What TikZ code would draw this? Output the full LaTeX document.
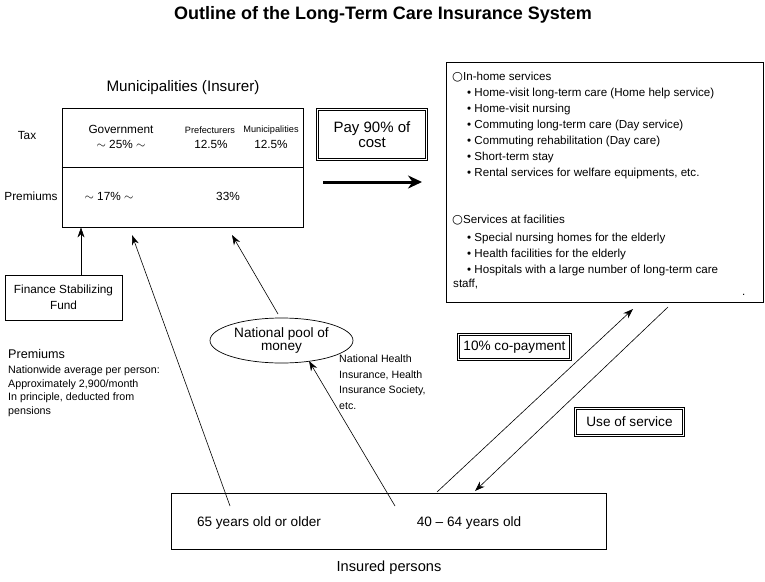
\documentclass[tikz,border=0pt]{standalone}
\usepackage{fontspec}
\setmainfont{Liberation Sans}
\newfontfamily\symfont{DejaVu Sans}
\usetikzlibrary{arrows.meta,shapes.geometric}
\newcommand{\circmark}{{\symfont\fontsize{12.5}{12}\selectfont ○}}
\begin{document}
\begin{tikzpicture}[x=1pt,y=-1pt,
  every node/.style={inner sep=0pt},
  box/.style={draw,line width=0.9pt,rectangle},
  dbox/.style={draw,line width=0.7pt,double,double distance=1.6pt,rectangle},
  big/.style={font=\fontsize{13.6}{15}\selectfont},
  med/.style={font=\fontsize{11.8}{16}\selectfont},
  sml/.style={font=\fontsize{11.6}{16}\selectfont},
  nhis/.style={font=\fontsize{10.6}{15.5}\selectfont},
  tny/.style={font=\fontsize{9.2}{10}\selectfont},
  arr/.style={line width=0.6pt,-{Stealth[length=10pt,width=7pt]}},
  thin/.style={line width=0.6pt}]
\useasboundingbox (0,0) rectangle (765,581);

\node (title) at (383,15) {\fontsize{18}{20}\selectfont\bfseries Outline of the Long-Term Care Insurance System};

\node[font=\fontsize{15.2}{17}\selectfont] (insurer) at (183,88) {Municipalities (Insurer)};
\node[box,minimum width=241pt,minimum height=119pt] (main) at (182.5,167.5) {};
\draw[line width=0.9pt] (main.west |- 0,167) coordinate (divL) -- (main.east |- 0,167) coordinate (divR);

\node[med] (tax) at (27,135) {Tax};
\node[med,align=center] (gov) at (121,137) {Government\\[-1pt]$\sim$ 25\% $\sim$};
\node[tny] (pref) at (210,130) {Prefecturers};
\node[med] (pref2) at (211,144) {12.5\%};
\node[tny] (muni) at (271,130) {Municipalities};
\node[med] (muni2) at (271,144) {12.5\%};
\node[med] (prem) at (31,196) {Premiums};
\node[med] (p17) at (109,196) {$\sim$ 17\% $\sim$};
\node[med] (p33) at (228,196) {33\%};

\node[box,minimum width=117pt,minimum height=45pt,med,align=center] (fsf) at (63.5,297.5) {Finance Stabilizing\\Fund};
\draw[arr] (fsf.north -| 81,0) -- (81,0 |- main.south);

\node[dbox,minimum width=109pt,minimum height=50pt,font=\fontsize{15}{15}\selectfont,align=center] (pay) at (372,134.5) {Pay 90\% of\\cost};
\coordinate (thkS) at (323,182);
\coordinate (thkE) at (422,182);
\draw[line width=3pt,-{Stealth[length=14pt,width=13pt]}] (thkS) -- (thkE);

\node[box,minimum width=317pt,minimum height=240pt] (serv) at (604.5,182) {};
\begin{scope}[every node/.style={inner sep=0pt,anchor=west,sml}]
\node (s1) at (452,77) {\circmark In-home services};
\node (s2) at (467,93) {•\ Home-visit long-term care (Home help service)};
\node (s3) at (467,109) {•\ Home-visit nursing};
\node (s4) at (467,125) {•\ Commuting long-term care (Day service)};
\node (s5) at (467,141) {•\ Commuting rehabilitation (Day care)};
\node (s6) at (467,157) {•\ Short-term stay};
\node (s7) at (467,173) {•\ Rental services for welfare equipments, etc.};
\node (f1) at (452,220) {\circmark Services at facilities};
\node (f2) at (467,238) {•\ Special nursing homes for the elderly};
\node (f3) at (467,254) {•\ Health facilities for the elderly};
\node (f4) at (467,270) {•\ Hospitals with a large number of long-term care};
\node (f5) at (453,284) {staff,};
\node (dot) at (742,295) {.};
\end{scope}

\node[dbox,minimum width=112pt,minimum height=25pt,font=\fontsize{13.6}{15}\selectfont] (copay) at (514.5,347) {10\% co-payment};
\node[dbox,minimum width=108pt,minimum height=27pt,big] (use) at (629.5,422) {Use of service};

\node[draw,ellipse,line width=0.7pt,minimum width=143pt,minimum height=45pt,big,align=center] (pool) at (281.5,340.5) {National pool of\\[-2pt]money};

\node[nhis,anchor=north west,align=left] (nhi) at (339,355) {National Health\\Insurance, Health\\Insurance Society,\\etc.};

\node[font=\fontsize{12.6}{14}\selectfont,anchor=west] (pnote) at (8,354) {Premiums};
\node[font=\fontsize{10.7}{13.5}\selectfont,anchor=north west,align=left] (pnote2) at (8,366) {Nationwide average per person:\\Approximately 2,900/month\\In principle, deducted from\\pensions};

\node[box,minimum width=435pt,minimum height=56pt] (ins) at (388.5,521) {};
\node[big] (y65) at (259,523) {65 years old or older};
\node[big] (y40) at (469,523) {40 -- 64 years old};
\node[font=\fontsize{14.6}{16}\selectfont] (insl) at (389,568) {Insured persons};

\coordinate (a65) at (230,506);
\coordinate (a65e) at (132,235);
\draw[arr] (a65) -- (a65e);
\coordinate (a40) at (395,506);
\coordinate (a40e) at (309,361);
\draw[arr] (a40) -- (a40e);
\coordinate (poolT) at (278,314);
\coordinate (poolTe) at (232,235);
\draw[arr] (poolT) -- (poolTe);

\coordinate (cpS) at (437,492);
\coordinate (cpE) at (633,309);
\draw[arr] (cpS) -- (cpE);
\coordinate (usS) at (668,307);
\coordinate (usE) at (475,491);
\draw[arr] (usS) -- (usE);
\end{tikzpicture}
\end{document}
